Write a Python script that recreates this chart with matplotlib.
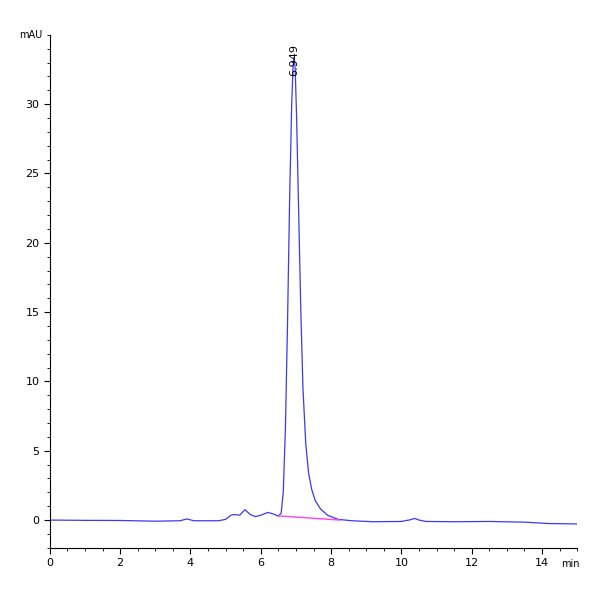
import matplotlib
matplotlib.use("Agg")
import matplotlib.pyplot as plt
from matplotlib.ticker import MultipleLocator, FixedLocator

time = [0, 1, 2, 3, 3.7, 3.9, 4.1, 4.8, 5.0, 5.15, 5.25, 5.4, 5.55, 5.7, 5.85, 6.0, 6.2, 6.35, 6.5,
        6.58, 6.64, 6.7, 6.76, 6.82, 6.88, 6.92, 6.949, 6.98, 7.02, 7.08, 7.14, 7.2, 7.28, 7.36,
        7.45, 7.55, 7.7, 7.9, 8.2, 8.6, 9.2, 10.0, 10.25, 10.38, 10.5, 10.7, 11.5, 12.5, 13.5, 14.2, 15]
signal = [0, -0.02, -0.03, -0.08, -0.05, 0.08, -0.05, -0.05, 0.05, 0.35, 0.4, 0.35, 0.75, 0.4, 0.25, 0.35, 0.55, 0.45, 0.28,
          0.5, 2.0, 6.5, 14.0, 23.0, 30.0, 32.8, 33.4, 32.5, 29.0, 22.0, 15.0, 9.5, 5.5, 3.4,
          2.2, 1.4, 0.8, 0.35, 0.05, -0.05, -0.12, -0.1, 0.02, 0.12, 0.0, -0.1, -0.12, -0.1, -0.15, -0.25, -0.28]
base_t = [6.52, 8.25]
base_v = [0.3, 0.0]
peak_t = 6.949
peak_label = "6.949"
y_ticks = [0, 5, 10, 15, 20, 25, 30]

fig = plt.figure(figsize=(6, 6), dpi=100)
ax = fig.add_axes([0.083, 0.087, 0.879, 0.855])
ax.plot(time, signal, color="#3a3af0", lw=0.9)
ax.plot(base_t, base_v, color="#ff40ff", lw=1.0)
ax.text(peak_t, 32.0, peak_label, rotation=90, ha="center", va="bottom", fontsize=8)
ax.set_xlim(0, 15)
ax.set_ylim(-2, 35)
ax.xaxis.set_major_locator(MultipleLocator(2))
ax.xaxis.set_minor_locator(MultipleLocator(0.5))
ax.yaxis.set_major_locator(FixedLocator(y_ticks))
ax.yaxis.set_minor_locator(MultipleLocator(1))
for s in ["top", "right"]:
    ax.spines[s].set_visible(False)
ax.tick_params(labelsize=8, length=4)
ax.tick_params(which="minor", length=2.5)
ax.text(-0.015, 35, "mAU", ha="right", va="center", fontsize=7, transform=ax.get_yaxis_transform())
ax.text(14.55, -3.2, "min", ha="left", va="center", fontsize=7)
fig.savefig("out.png")
